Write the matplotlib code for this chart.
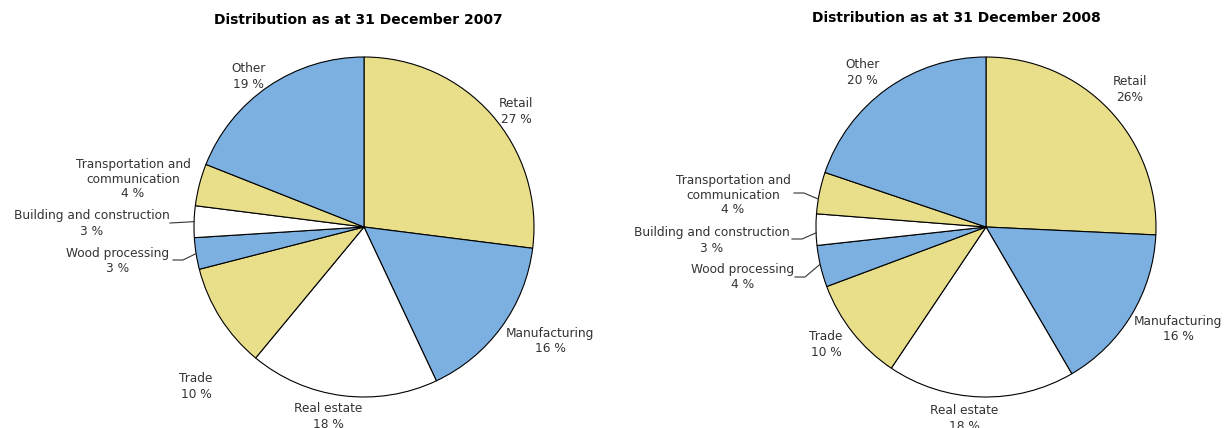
import numpy as np
import matplotlib
matplotlib.use("Agg")
import matplotlib.pyplot as plt

# Loan portfolio distribution by sector (%)
sectors = ["Retail", "Manufacturing", "Real estate", "Trade", "Wood processing",
           "Building and construction", "Transportation and\ncommunication", "Other"]
share_2007 = [27, 16, 18, 10, 3, 3, 4, 19]
share_2008 = [26, 16, 18, 10, 4, 3, 4, 20]
titles = ["Distribution as at 31 December 2007", "Distribution as at 31 December 2008"]

YELLOW = "#E9DE8A"
BLUE = "#7BB0E1"
WHITE = "#FFFFFF"
slice_colors = [YELLOW, BLUE, WHITE, YELLOW, BLUE, WHITE, YELLOW, BLUE]

W, H = 1224, 428
fig = plt.figure(figsize=(W / 100, H / 100), dpi=100)
ax = fig.add_axes([0, 0, 1, 1])


def P(x, y):
    """pixel (top-left origin) -> data coordinates"""
    return x, H - y


# layout for each panel: pie centre, radius, title pos, label block centres,
# leader-line elbows with the fraction along the wedge arc where they attach
layouts = [
    dict(center=(364, 227), radius=170, title=(358, 20),
         labels=[(516, 111), (550, 341), (328, 417), (196, 387),
                 (118, 261), (92, 223), (133, 179), (248, 76)],
         leaders={4: ([(173, 260), (183, 260)], 0.5), 5: ([(170, 223)], 0.5)}),
    dict(center=(986, 227), radius=170, title=(956, 18),
         labels=[(1130, 89), (1178, 329), (964, 418), (826, 344),
                 (743, 277), (712, 240), (733, 195), (862, 72)],
         leaders={4: ([(795, 277), (805, 277)], 0.45),
                  5: ([(792, 239), (802, 239)], 0.6),
                  6: ([(794, 193), (804, 193)], 0.65)}),
]

for values, title, lay in zip([share_2007, share_2008], titles, layouts):
    cx, cy = P(*lay["center"])
    wedges, _ = ax.pie(values, colors=slice_colors, startangle=90, counterclock=False,
                       center=(cx, cy), radius=lay["radius"],
                       wedgeprops=dict(edgecolor="black", linewidth=0.8))

    labels = [f"{s}\n{v} %" for s, v in zip(sectors, values)]
    if values is share_2008:
        labels[0] = f"{sectors[0]}\n{values[0]}%"

    for i, (lbl, pos) in enumerate(zip(labels, lay["labels"])):
        ax.text(*P(*pos), lbl, ha="center", va="center", fontsize=8.7,
                color="#333333", linespacing=1.3 if i != 6 else 1.15,
                family="DejaVu Sans")

    for i, (pts, frac) in lay["leaders"].items():
        w = wedges[i]
        ang = np.deg2rad(w.theta1 + frac * (w.theta2 - w.theta1))
        ex = cx + lay["radius"] * np.cos(ang)
        ey = cy + lay["radius"] * np.sin(ang)
        xs = [P(*p)[0] for p in pts] + [ex]
        ys = [P(*p)[1] for p in pts] + [ey]
        ax.plot(xs, ys, color="#333333", linewidth=0.8)

    ax.text(*P(*lay["title"]), title, ha="center", va="center", fontsize=10,
            fontweight="bold", color="black")

ax.set_xlim(0, W)
ax.set_ylim(0, H)
ax.set_aspect("equal")
ax.axis("off")

fig.savefig("out.png", dpi=100)
